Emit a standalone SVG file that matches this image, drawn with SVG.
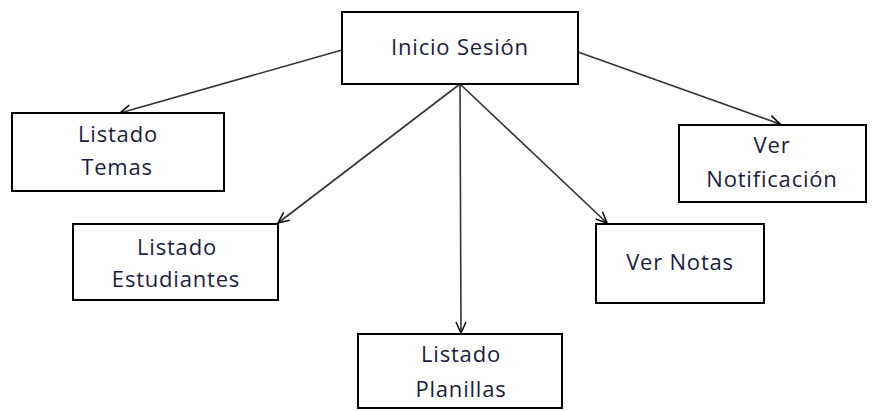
<svg xmlns="http://www.w3.org/2000/svg" width="876" height="411" viewBox="0 0 876 411">
<defs>
<marker id="arr" markerWidth="14" markerHeight="14" refX="12" refY="6" orient="auto" markerUnits="userSpaceOnUse">
<path d="M1,1 L12,6 L1,11" fill="none" stroke="#000" stroke-width="1.5"/>
</marker>
<style>
rect{fill:#fff;stroke:#000;stroke-width:2}
text{font-family:"Open Sans","Noto Sans",sans-serif;font-size:22px;letter-spacing:0.8px;fill:#1c1c3c;text-anchor:middle}
.c line{stroke:#333;stroke-width:1.6;marker-end:url(#arr)}
</style>
</defs>
<rect x="0" y="0" width="876" height="411" style="fill:#fff;stroke:none"/>
<g class="c" id="connectors">
<line x1="342" y1="50" x2="120" y2="113"/>
<line x1="578" y1="52" x2="780" y2="124"/>
<line x1="460" y1="84" x2="278" y2="223"/>
<line x1="460" y1="84" x2="461" y2="333"/>
<line x1="460" y1="84" x2="607" y2="223"/>
</g>
<g id="inicio"><rect x="342" y="12" width="236" height="72"/><text x="460" y="55">Inicio Sesión</text></g>
<g id="temas"><rect x="12" y="113" width="212" height="78"/><text x="118" y="142">Listado</text><text x="117" y="175">Temas</text></g>
<g id="estudiantes"><rect x="73" y="224" width="205" height="76"/><text x="177" y="255">Listado</text><text x="176" y="287">Estudiantes</text></g>
<g id="planillas"><rect x="358" y="334" width="204" height="74"/><text x="461" y="362">Listado</text><text x="461" y="397">Planillas</text></g>
<g id="notas"><rect x="596" y="224" width="168" height="79"/><text x="680" y="270">Ver Notas</text></g>
<g id="notificacion"><rect x="679" y="125" width="187" height="77"/><text x="772" y="153">Ver</text><text x="772" y="187">Notificación</text></g>
</svg>
